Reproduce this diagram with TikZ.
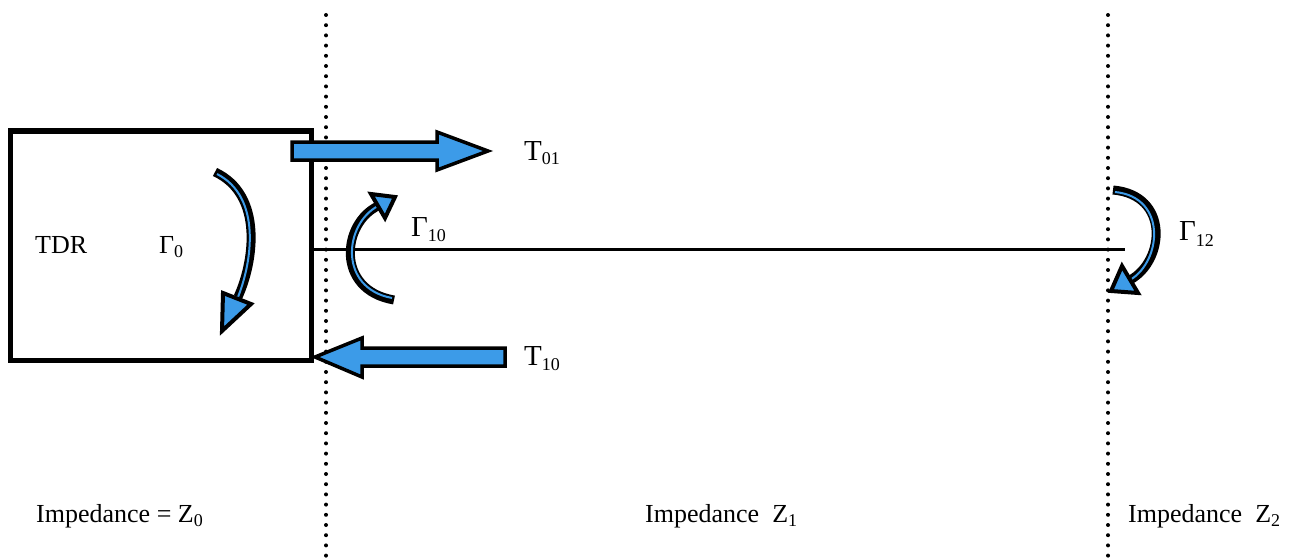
\documentclass[tikz,border=0pt]{standalone}
\usepackage{fontspec}
\setmainfont{Liberation Serif}
\definecolor{blueA}{RGB}{60,155,232}
\newcommand\sbs[2][4]{\raisebox{-#1pt}{\fontsize{18}{18}\selectfont #2}}
\tikzset{
  dotline/.style={line width=4pt, dash pattern=on 0pt off 10.2pt, line cap=round},
  blockarrow/.style={fill=blueA, draw=black, line width=3.5pt, line join=miter},
  crv/.style={line width=9pt, black},
  crvin/.style={line width=2pt, blueA},
  crvhead/.style={fill=blueA, draw=black, line width=4pt, line join=miter},
  lbl/.style={anchor=base west, inner sep=0pt, font=\fontsize{29}{29}\selectfont},
  txt/.style={anchor=base west, inner sep=0pt, font=\fontsize{26}{26}\selectfont}
}
\begin{document}
\begin{tikzpicture}[x=1pt,y=-1pt]
\useasboundingbox (0,0) rectangle (1292,559);
% dotted boundaries
\coordinate (d1t) at (326,15); \coordinate (d1b) at (326,559);
\coordinate (d2t) at (1108,15); \coordinate (d2b) at (1108,559);
\draw[dotline] (d1t) -- (d1b);
\draw[dotline] (d2t) -- (d2b);
% TDR box and line
\draw[line width=5pt] (10,131) rectangle (311,360);
\coordinate (ls) at (311,249); \coordinate (le) at (1125,249);
\draw[line width=3pt] (ls) -- (le);
% straight block arrows
\draw[blockarrow] (292,142) -- (437,142) -- (437,132) -- (488,151) -- (437,170) -- (437,160) -- (292,160) -- cycle;
\draw[blockarrow] (505,348) -- (362,348) -- (362,338) -- (315,357) -- (362,377) -- (362,366) -- (505,366) -- cycle;
% Gamma_0 curved arrow
\draw[crv] (215,172) .. controls (264,195) and (254,262) .. (238,297);
\draw[crvin] (217,174) .. controls (262,197) and (252,262) .. (238,297);
\draw[crvhead] (222,331) -- (223,293) -- (251,304) -- cycle;
% Gamma_10 curved arrow
\draw[crv] (394,300) .. controls (335,290) and (342,223) .. (378,206);
\draw[crvin] (392,298) .. controls (338,288) and (344,224) .. (378,206);
\draw[crvhead] (395,197) -- (371,194) -- (385,218) -- cycle;
% Gamma_12 curved arrow
\draw[crv] (1113,190) .. controls (1170,195) and (1165,261) .. (1130,280);
\draw[crvin] (1115,192) .. controls (1167,197) and (1162,261) .. (1130,280);
\draw[crvhead] (1111,291) -- (1122,266) -- (1138,293) -- cycle;
% labels
\node[txt] (tdr) at (35,253) {TDR};
\node[txt] (g0) at (159,253) {Γ\sbs{0}};
\node[lbl] (t01) at (524,160) {T\sbs{01}};
\node[lbl] (g10) at (411,236) {Γ\sbs[5]{10}};
\node[lbl] (g12) at (1179,240) {Γ\sbs[6]{12}};
\node[lbl] (t10) at (524,365) {T\sbs[5]{10}};
\node[txt] (z0) at (36,522) {Impedance = Z\sbs{0}};
\node[txt] (z1) at (645,522) {Impedance\ \ Z\sbs{1}};
\node[txt] (z2) at (1128,522) {Impedance\ \ Z\sbs{2}};
\end{tikzpicture}
\end{document}
